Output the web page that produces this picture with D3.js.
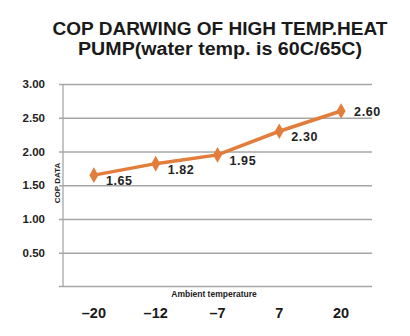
<!DOCTYPE html>
<html>
<head>
<meta charset="utf-8">
<script src="https://cdnjs.cloudflare.com/ajax/libs/d3/7.8.5/d3.min.js"></script>
<style>
  body { margin: 0; background: #fff; }
  svg { display: block; font-family: "Liberation Sans", Arial, sans-serif; }
  .grid line { stroke: #a6a6a6; stroke-width: 1.3; }
</style>
</head>
<body>
<svg></svg>
<script>
(function () {

  const temps = ['-20', '-12', '-7', '7', '20']
  const cop = [1.65, 1.82, 1.95, 2.30, 2.60]
  const yTicks = [0.5, 1.0, 1.5, 2.0, 2.5, 3.0]
  const titleLines = ['COP DARWING OF HIGH TEMP.HEAT', 'PUMP(water temp. is 60C/65C)']

  const svgWidth = 410
  const svgHeight = 336
  const margin = {left: 63, right: 38, top: 84, bottom: 50}

  const svg = d3.select('svg')
    .attr('width', svgWidth)
    .attr('height', svgHeight)

  const x = d3.scaleBand()
    .domain(temps)
    .range([margin.left, svgWidth - margin.right])

  const y = d3.scaleLinear()
    .domain([0, 3])
    .range([svgHeight - margin.bottom + 0.5, margin.top])

  // title
  svg.selectAll('.title')
    .data(titleLines)
    .enter()
    .append('text')
    .attr('x', 220)
    .attr('y', (d, i) => 35 + i * 20)
    .attr('text-anchor', 'middle')
    .attr('font-size', 17.5)
    .attr('font-weight', 'bold')
    .attr('fill', '#1a1a1a')
    .attr('textLength', (d, i) => i === 0 ? 335 : 284)
    .attr('lengthAdjust', 'spacingAndGlyphs')
    .text(d => d)

  // gridlines + y ticks
  const grid = svg.append('g')
    .attr('class', 'grid')
    .attr('transform', `translate(${margin.left},0)`)
    .call(d3.axisLeft(y)
      .tickValues(yTicks)
      .tickSize(-(svgWidth - margin.left - margin.right))
      .tickSizeOuter(0)
      .tickFormat(d3.format('.2f')))
  grid.select('.domain').remove()
  grid.selectAll('.tick line').attr('x1', -4)
  grid.selectAll('.tick text')
    .attr('x', -18)
    .attr('font-size', 11.5)
    .attr('font-weight', 'bold')
    .attr('fill', '#222')
    .attr('font-family', '"Liberation Sans", Arial, sans-serif')

  // baseline and left axis line
  svg.append('line')
    .attr('x1', margin.left - 4).attr('x2', svgWidth - margin.right)
    .attr('y1', y(0)).attr('y2', y(0))
    .attr('stroke', '#a6a6a6').attr('stroke-width', 1.3)
  svg.append('line')
    .attr('x1', margin.left).attr('x2', margin.left)
    .attr('y1', y(3)).attr('y2', y(0))
    .attr('stroke', '#a6a6a6').attr('stroke-width', 1.3)

  // x tick labels
  svg.selectAll('.xlabel')
    .data(temps)
    .enter()
    .append('text')
    .attr('x', d => x(d) + x.bandwidth() / 2)
    .attr('y', 318)
    .attr('text-anchor', 'middle')
    .attr('font-size', 14.5)
    .attr('font-weight', 'bold')
    .attr('fill', '#1a1a1a')
    .text(d => d.replace('-', '\u2013'))

  // axis titles
  svg.append('text')
    .attr('x', 214)
    .attr('y', 297)
    .attr('text-anchor', 'middle')
    .attr('font-size', 8.5)
    .attr('font-weight', 'bold')
    .attr('fill', '#222')
    .text('Ambient temperature')

  svg.append('text')
    .attr('transform', 'translate(60,183) rotate(-90)')
    .attr('text-anchor', 'middle')
    .attr('font-size', 8)
    .attr('font-weight', 'bold')
    .attr('fill', '#222')
    .text('COP DATA')

  // series
  const points = temps.map((t, i) => ({t: t, v: cop[i]}))

  const line = d3.line()
    .x(d => x(d.t) + x.bandwidth() / 2)
    .y(d => y(d.v))

  svg.append('path')
    .datum(points)
    .attr('d', line)
    .attr('fill', 'none')
    .attr('stroke', '#e27d3c')
    .attr('stroke-width', 3.5)

  svg.selectAll('.marker')
    .data(points)
    .enter()
    .append('path')
    .attr('d', d3.symbol().type(d3.symbolDiamond).size(70))
    .attr('transform', d => `translate(${x(d.t) + x.bandwidth() / 2},${y(d.v)})`)
    .attr('fill', '#e27d3c')

  svg.selectAll('.vlabel')
    .data(points)
    .enter()
    .append('text')
    .attr('x', (d, i) => x(d.t) + x.bandwidth() / 2 + (i === points.length - 1 ? 13 : 12))
    .attr('y', (d, i) => y(d.v) + (i === points.length - 1 ? 5 : 10))
    .attr('font-size', 12.5)
    .attr('letter-spacing', 0.6)
    .attr('font-weight', 'bold')
    .attr('fill', '#222')
    .text(d => d.v.toFixed(2))

})()
</script>
</body>
</html>
